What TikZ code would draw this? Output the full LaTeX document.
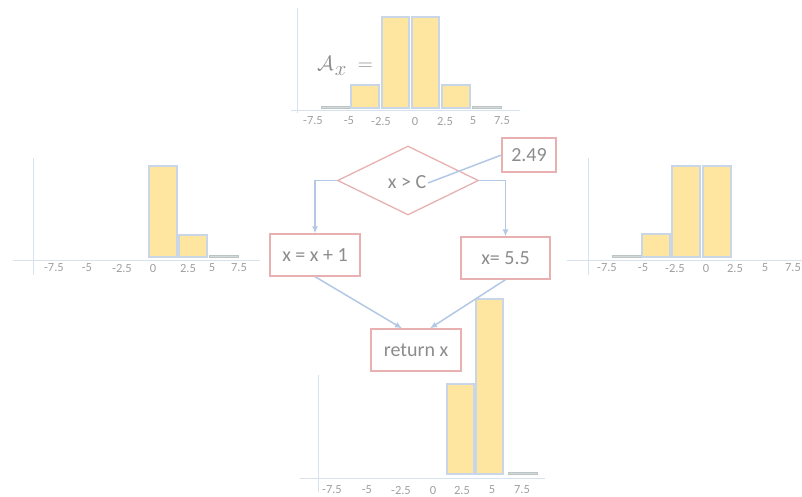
\documentclass[tikz,border=0pt]{standalone}
\usepackage{fontspec}
\setmainfont{Carlito}
\usetikzlibrary{shapes.geometric,arrows.meta,calc}
\definecolor{barfill}{HTML}{FFE6A0}
\definecolor{barline}{HTML}{C8D6E8}
\definecolor{flatfill}{HTML}{D2DADC}
\definecolor{axiscol}{HTML}{D8E2EE}
\definecolor{boxcol}{HTML}{E8B0B0}
\definecolor{linkcol}{HTML}{B2C8E4}
\definecolor{txtcol}{HTML}{8C8C8C}
\definecolor{tickcol}{HTML}{A0A0A0}
\tikzset{
  bar/.style={fill=barfill,draw=barline,line width=1.1pt},
  flatbar/.style={fill=flatfill,draw=flatfill!90!black,line width=0.6pt},
  axisline/.style={draw=axiscol,line width=1pt},
  ticklab/.style={text=tickcol,font=\fontsize{12.5}{14}\selectfont,inner sep=0pt},
  stepbox/.style={draw=boxcol,line width=1.3pt,fill=white,text=txtcol,
    font=\fontsize{20}{24}\selectfont,minimum height=42pt,inner sep=0pt},
  link/.style={draw=linkcol,line width=1.5pt},
  arr/.style={link,-{Latex[length=7pt,width=6pt]}},
}
\begin{document}
\begin{tikzpicture}[x=1pt,y=-1pt]
\useasboundingbox (0,0) rectangle (802,496);
% ---------- top histogram ----------
\draw[axisline] (297,8) -- (297,113);
\draw[axisline] (291,110) -- (520,110);
\draw[flatbar] (321,106) rectangle (350,108.5);
\draw[bar] (351,85) rectangle (379,108);
\draw[bar] (382,17) rectangle (409,108);
\draw[bar] (412,17) rectangle (439,108);
\draw[bar] (442,85) rectangle (470,108);
\draw[flatbar] (472,106) rectangle (501,108.5);
\foreach \x/\l in {313/-7.5,349/-5,381/-2.5,415/0,445/2.5,473/5,502/7.5}
  \node[ticklab] at (\x,121) {\l};
\node[text=txtcol,inner sep=0pt] (ax) at (345,66) {\fontsize{21}{24}\selectfont$\mathcal{A}\kern1pt\lower5pt\hbox{$x$}\;=$};
% ---------- left histogram ----------
\draw[axisline] (33,158) -- (33,275);
\draw[axisline] (13,260) -- (260,260);
\draw[bar] (149,166) rectangle (177,257);
\draw[bar] (179,235) rectangle (207,257);
\draw[flatbar] (209,255) rectangle (238,257.5);
\foreach \x/\l in {54/-7.5,87/-5,122/-2.5,153/0,188/2.5,212/5,239/7.5}
  \node[ticklab] at (\x,268) {\l};
% ---------- right histogram ----------
\draw[axisline] (588,158) -- (588,275);
\draw[axisline] (567,260) -- (802,260);
\draw[flatbar] (612,255) rectangle (641,257.5);
\draw[bar] (642,234) rectangle (670,257);
\draw[bar] (672,166) rectangle (700,257);
\draw[bar] (703,166) rectangle (731,257);
\foreach \x/\l in {607/-7.5,643/-5,675/-2.5,706/0,735/2.5,765/5,793/7.5}
  \node[ticklab] at (\x,268) {\l};
% ---------- bottom histogram ----------
\draw[axisline] (318,375) -- (318,492);
\draw[axisline] (300,478) -- (545,478);
\draw[bar] (447,384) rectangle (474,474);
\draw[bar] (476,299) rectangle (503,474);
\draw[flatbar] (508,472) rectangle (537,474.5);
\foreach \x/\l in {332/-7.5,367/-5,401/-2.5,433/0,462/2.5,492/5,522/7.5}
  \node[ticklab] at (\x,490) {\l};
% ---------- flowchart ----------
\node[diamond,draw=boxcol,line width=1.3pt,fill=white,text=txtcol,
  font=\fontsize{20}{24}\selectfont,inner sep=0pt,aspect=2.04,
  minimum width=141pt,minimum height=69pt] (cond) at (408,180.5) {};
\node[text=txtcol,font=\fontsize{20}{24}\selectfont,inner sep=0pt] (condtxt) at (407,182) {x > C};
\node[stepbox,minimum width=54pt,minimum height=34pt] (val) at (529,155) {2.49};
\node[stepbox,minimum width=90pt] (b1) at (315,255) {x = x + 1};
\node[stepbox,minimum width=89pt] (b2) at (505.5,258) {x= 5.5};
\node[stepbox,minimum width=90pt] (ret) at (416,350) {return x};
\coordinate (cend) at (428,183);
\draw[link] (val.west) -- (cend);
\draw[arr] (cond.west) -| (b1.north);
\draw[arr] (cond.east) -| (b2.north);
\coordinate (retL) at ($(ret.north)+(-14,0)$);
\coordinate (retR) at ($(ret.north)+(14,0)$);
\draw[arr] (b1.south) -- (retL);
\draw[arr] (b2.south) -- (retR);
\end{tikzpicture}
\end{document}
